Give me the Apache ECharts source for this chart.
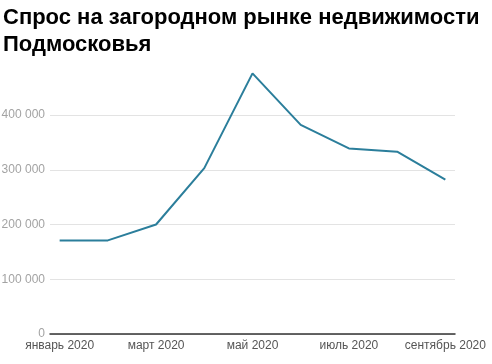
<!DOCTYPE html>
<html>
<head>
<meta charset="utf-8">
<script src="https://cdn.jsdelivr.net/npm/echarts@6/dist/echarts.min.js"></script>
<style>
html,body{margin:0;padding:0;background:#fff;}
#chart{width:492px;height:364px;}
</style>
</head>
<body>
<div id="chart"></div>
<script>
const titleText = 'Спрос на загородном рынке недвижимости\nПодмосковья';
const months = ['январь 2020','февраль 2020','март 2020','апрель 2020','май 2020','июнь 2020','июль 2020','август 2020','сентябрь 2020'];
const demand = [171000, 171000, 200000, 303000, 476000, 382000, 339000, 333000, 282000];
const xLabelPositions = [0, 2, 4, 6, 8];
const yTicks = [0, 100000, 200000, 300000, 400000];

const chart = echarts.init(document.getElementById('chart'), null, {renderer: 'canvas'});
chart.setOption({
  animation: false,
  backgroundColor: '#fff',
  title: {
    text: titleText,
    left: 3,
    top: 4,
    padding: 0,
    textStyle: {
      fontFamily: 'Liberation Sans, Arial, sans-serif',
      fontWeight: 'bold',
      fontSize: 22,
      lineHeight: 27,
      color: '#000'
    }
  },
  grid: {left: 50, right: 37, top: 115, bottom: 30, containLabel: false, outerBoundsMode: 'none'},
  xAxis: {
    type: 'value',
    min: -0.2,
    max: months.length - 1 + 0.2,
    axisLine: {show: true, onZero: false, lineStyle: {color: '#333', width: 1.5}},
    axisTick: {show: false},
    splitLine: {show: false},
    axisLabel: {
      customValues: xLabelPositions,
      formatter: v => months[Math.round(v)],
      color: '#555',
      fontFamily: 'Liberation Sans, Arial, sans-serif',
      fontSize: 12,
      margin: 6
    }
  },
  yAxis: {
    type: 'value',
    min: yTicks[0],
    max: yTicks[yTicks.length - 1],
    interval: 100000,
    axisLine: {show: false},
    axisTick: {show: false},
    splitLine: {lineStyle: {color: '#e3e3e3', width: 1}},
    axisLabel: {
      formatter: v => String(v).replace(/\B(?=(\d{3})+(?!\d))/g, ' '),
      color: '#a3a3a3',
      fontFamily: 'Liberation Sans, Arial, sans-serif',
      fontSize: 12,
      margin: 5
    }
  },
  series: [{
    type: 'line',
    data: demand.map((v, i) => [i, v]),
    clip: false,
    symbol: 'none',
    lineStyle: {color: '#2b7e9b', width: 2},
    z: 3
  }]
});
</script>
</body>
</html>
